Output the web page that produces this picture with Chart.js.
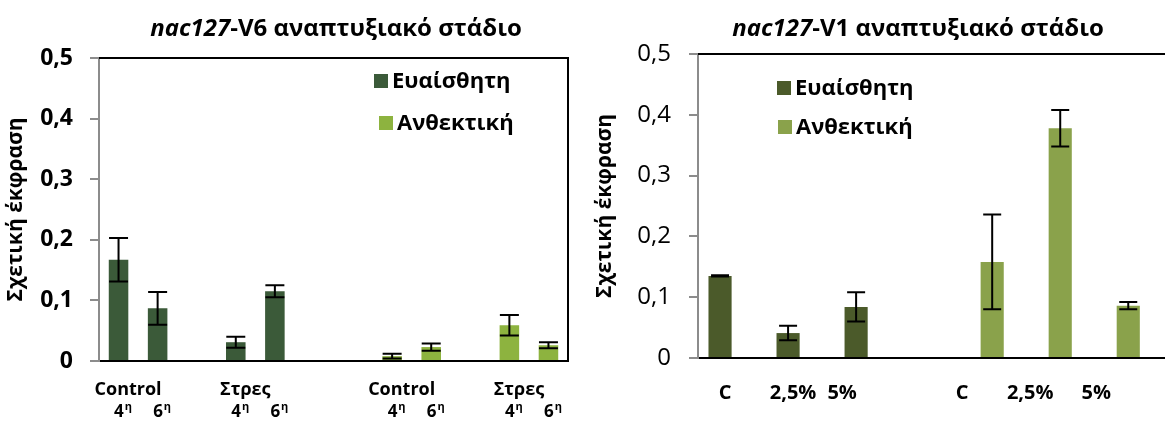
<!DOCTYPE html>
<html>
<head>
<meta charset="utf-8">
<script src="https://cdn.jsdelivr.net/npm/chart.js"></script>
<style>
  body { margin: 0; background: #fff; }
  .box { position: absolute; top: 0; height: 422px; }
</style>
</head>
<body>
<div class="box" style="left:0;width:580px"><canvas id="v6"></canvas></div>
<div class="box" style="left:580px;width:585px"><canvas id="v1"></canvas></div>
<script>
// --- V6 chart data ---
const v6Groups = ['Control', 'Στρες', 'Control', 'Στρες'];
const v6Days = ['4', '6'];
const v6GroupSlot = [0, 3, 7, 10];          // category slot where each pair starts (12 slots)
const v6Sensitive = [0.167, 0.087, 0.031, 0.115];
const v6SensitiveErr = [0.036, 0.027, 0.009, 0.010];
const v6Resistant = [0.008, 0.023, 0.059, 0.026];
const v6ResistantErr = [0.004, 0.006, 0.017, 0.005];

// --- V1 chart data ---
const v1Cats = ['C', '2,5%', '5%'];
const v1Sensitive = [0.135, 0.041, 0.084];
const v1SensitiveErr = [0.001, 0.012, 0.024];
const v1Resistant = [0.158, 0.378, 0.086];
const v1ResistantErr = [0.078, 0.030, 0.006];

const seriesNames = ['Ευαίσθητη', 'Ανθεκτική'];
const yTicks = [0, 0.1, 0.2, 0.3, 0.4, 0.5];

const FONT = "'Open Sans', sans-serif";
const fmt = v => v === 0 ? '0' : v.toFixed(1).replace('.', ',');

// spread the pair values over the 12 category slots
function toSlots(vals, groupIdx) {
  const out = new Array(12).fill(null);
  groupIdx.forEach((g, k) => {
    out[v6GroupSlot[g]] = vals[k * 2];
    out[v6GroupSlot[g] + 1] = vals[k * 2 + 1];
  });
  return out;
}

const errorBars = {
  id: 'errorBars',
  afterDatasetsDraw(chart, args, opts) {
    const ctx = chart.ctx, y = chart.scales.y;
    ctx.save();
    ctx.strokeStyle = '#000';
    ctx.lineWidth = opts.width;
    chart.data.datasets.forEach((ds, d) => {
      const meta = chart.getDatasetMeta(d);
      meta.data.forEach((bar, i) => {
        const e = ds.errors[i];
        const raw = ds.data[i];
        const v = raw && typeof raw === 'object' ? raw.y : raw;
        if (v == null || e == null) return;
        const top = y.getPixelForValue(v + e), bot = y.getPixelForValue(v - e);
        const c = opts.cap / 2;
        ctx.beginPath();
        ctx.moveTo(bar.x, top); ctx.lineTo(bar.x, bot);
        ctx.moveTo(bar.x - c, top); ctx.lineTo(bar.x + c, top);
        ctx.moveTo(bar.x - c, bot); ctx.lineTo(bar.x + c, bot);
        ctx.stroke();
      });
    });
    ctx.restore();
  }
};

const frame = {
  id: 'frame',
  afterDatasetsDraw(chart, args, opts) {
    const { ctx, chartArea: a } = chart;
    ctx.save();
    ctx.strokeStyle = '#000';
    ctx.lineWidth = 2;
    ctx.beginPath();
    ctx.moveTo(a.left, a.top);
    ctx.lineTo(a.right, a.top);
    if (opts.right) ctx.lineTo(a.right, a.bottom);
    ctx.stroke();
    ctx.restore();
  }
};

const heading = {
  id: 'heading',
  afterDraw(chart, args, opts) {
    const ctx = chart.ctx;
    ctx.save();
    ctx.fillStyle = '#000';
    ctx.textBaseline = 'middle';
    const fi = 'italic bold 24px ' + FONT, fb = 'bold 24px ' + FONT;
    ctx.font = fi; const w1 = ctx.measureText(opts.gene).width;
    ctx.font = fb; const w2 = ctx.measureText(opts.rest).width;
    let x = opts.x - (w1 + w2) / 2;
    ctx.font = fi; ctx.fillText(opts.gene, x, opts.y);
    ctx.font = fb; ctx.fillText(opts.rest, x + w1, opts.y);
    ctx.restore();
  }
};

const keyBox = {
  id: 'keyBox',
  afterDraw(chart, args, opts) {
    const ctx = chart.ctx;
    ctx.save();
    ctx.font = 'bold 22px ' + FONT;
    ctx.textBaseline = 'middle';
    opts.items.forEach((it, i) => {
      const ds = chart.data.datasets[i];
      ctx.fillStyle = ds.backgroundColor;
      ctx.fillRect(it.x, it.y - 7, 14, 14);
      ctx.fillStyle = '#000';
      ctx.fillText(ds.label, it.x + 18, it.y + 1);
    });
    ctx.restore();
  }
};

function drawSup(ctx, num, x, y) {
  ctx.font = 'bold 17px ' + FONT;
  const w1 = ctx.measureText(num).width;
  ctx.font = 'bold 11px ' + FONT;
  const w2 = ctx.measureText('η').width;
  const x0 = x - (w1 + w2) / 2;
  ctx.font = 'bold 17px ' + FONT;
  ctx.fillText(num, x0, y);
  ctx.font = 'bold 11px ' + FONT;
  ctx.fillText('η', x0 + w1 + 1, y - 5);
}

const v6Labels = {
  id: 'v6Labels',
  afterDraw(chart) {
    const ctx = chart.ctx, x = chart.scales.x;
    ctx.save();
    ctx.fillStyle = '#000';
    ctx.textBaseline = 'middle';
    v6Groups.forEach((g, k) => {
      const s = v6GroupSlot[k];
      const a = x.getPixelForValue(s), b = x.getPixelForValue(s + 1);
      ctx.font = 'bold 18px ' + FONT;
      ctx.textAlign = 'center';
      ctx.fillText(g, (a + b) / 2 - 10, 390);
      ctx.textAlign = 'left';
      drawSup(ctx, v6Days[0], a + 4, 412);
      drawSup(ctx, v6Days[1], b + 4, 412);
    });
    ctx.restore();
  }
};

const v1Labels = {
  id: 'v1Labels',
  afterDraw(chart) {
    const ctx = chart.ctx;
    ctx.save();
    ctx.fillStyle = '#000';
    ctx.textBaseline = 'middle';
    ctx.textAlign = 'center';
    ctx.font = 'bold 20px ' + FONT;
    chart.data.datasets.forEach((ds, d) => {
      chart.getDatasetMeta(d).data.forEach((bar, i) => {
        const shift = d === 0 ? [5, 5, -14][i] : [-30, -30, -32][i];
        ctx.fillText(v1Cats[i], bar.x + shift, 393);
      });
    });
    ctx.restore();
  }
};

function yScale(bold, width, tickPad, titlePad) {
  return {
    min: 0, max: 0.5,
    afterBuildTicks: s => { s.ticks = yTicks.map(v => ({ value: v })); },
    afterFit: s => { s.width = width; },
    ticks: {
      callback: fmt, color: '#000', padding: tickPad,
      font: { family: FONT, size: bold ? 23 : 24, weight: bold ? 'bold' : 'normal' }
    },
    grid: { drawOnChartArea: false, tickLength: 9, color: '#8c8c8c', lineWidth: 2 },
    border: { color: '#8c8c8c', width: 2 },
    title: {
      display: true, text: 'Σχετική έκφραση', color: '#000',
      font: { family: FONT, size: 21, weight: 'bold' },
      padding: { top: titlePad, bottom: 0 }
    }
  };
}

// --- V6 chart ---
new Chart(document.getElementById('v6'), {
  type: 'bar',
  data: {
    labels: new Array(12).fill(''),
    datasets: [
      {
        label: seriesNames[0], backgroundColor: '#3b5a39',
        data: toSlots(v6Sensitive, [0, 1]), errors: toSlots(v6SensitiveErr, [0, 1])
      },
      {
        label: seriesNames[1], backgroundColor: '#8db33f',
        data: toSlots(v6Resistant, [2, 3]), errors: toSlots(v6ResistantErr, [2, 3])
      }
    ]
  },
  options: {
    responsive: true, maintainAspectRatio: false, animation: false,
    layout: { padding: { top: 58, right: 12, bottom: 0, left: 0 } },
    grouped: false,
    barPercentage: 0.5, categoryPercentage: 1,
    scales: {
      x: {
        ticks: { display: false },
        grid: { display: false },
        border: { color: '#000', width: 2 },
        afterFit: s => { s.height = 61; }
      },
      y: yScale(true, 99, 17, 3)
    },
    plugins: {
      legend: { display: false },
      tooltip: { enabled: false },
      errorBars: { width: 2, cap: 19 },
      frame: { right: true },
      heading: { gene: 'nac127', rest: '-V6 αναπτυξιακό στάδιο', x: 336, y: 29 },
      keyBox: { items: [{ x: 374, y: 81 }, { x: 379, y: 123 }] }
    }
  },
  plugins: [errorBars, frame, heading, keyBox, v6Labels]
});

// --- V1 chart ---
const v1Pos = v1Cats.map((c, i) => i);   // sensitive group slots; resistant sits after one empty slot
new Chart(document.getElementById('v1'), {
  type: 'bar',
  data: {
    datasets: [
      {
        label: seriesNames[0], backgroundColor: '#4b5a2a',
        data: v1Sensitive.map((v, i) => ({ x: v1Pos[i], y: v })), errors: v1SensitiveErr
      },
      {
        label: seriesNames[1], backgroundColor: '#8aa24b',
        data: v1Resistant.map((v, i) => ({ x: v1Pos[i] + v1Cats.length + 1, y: v })), errors: v1ResistantErr
      }
    ]
  },
  options: {
    responsive: true, maintainAspectRatio: false, animation: false,
    layout: { padding: { top: 54, right: 0, bottom: 0, left: 0 } },
    grouped: false,
    barPercentage: 0.34, categoryPercentage: 1,
    scales: {
      x: {
        type: 'linear', min: -0.324, max: 6.54, offset: false,
        ticks: { display: false },
        grid: { display: false },
        border: { color: '#000', width: 2 },
        afterFit: s => { s.height = 64; }
      },
      y: yScale(false, 118, 18, 12)
    },
    plugins: {
      legend: { display: false },
      tooltip: { enabled: false },
      errorBars: { width: 2, cap: 18 },
      frame: { right: false },
      heading: { gene: 'nac127', rest: '-V1 αναπτυξιακό στάδιο', x: 338, y: 29 },
      keyBox: { items: [{ x: 197, y: 88 }, { x: 198, y: 127 }] }
    }
  },
  plugins: [errorBars, frame, heading, keyBox, v1Labels]
});
</script>
</body>
</html>
